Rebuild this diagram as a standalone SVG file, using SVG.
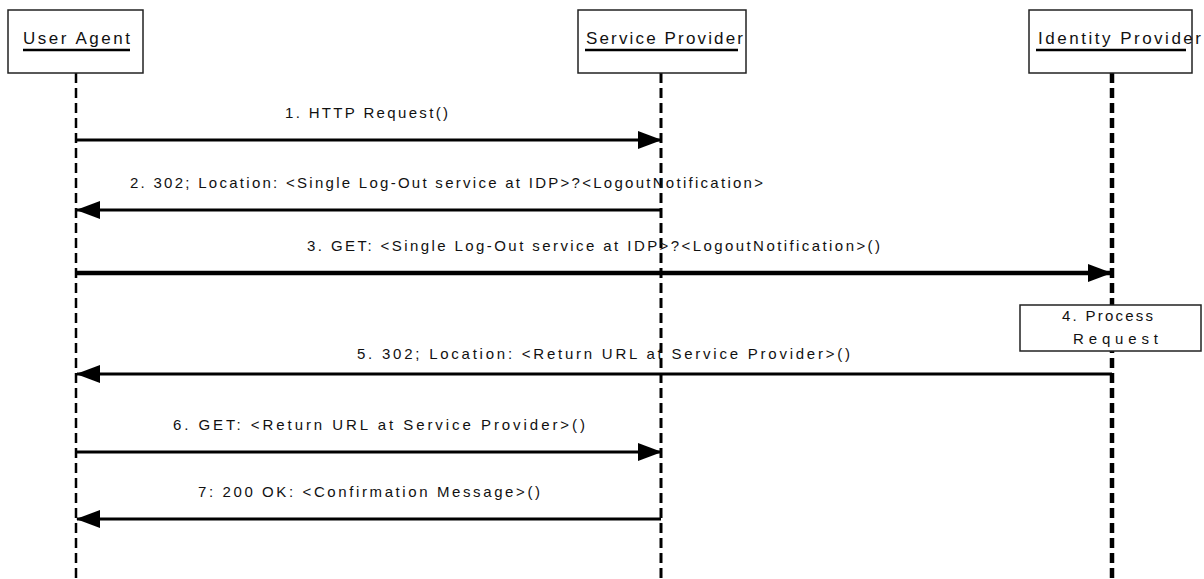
<svg xmlns="http://www.w3.org/2000/svg" width="1204" height="579" viewBox="0 0 1204 579">
<style>
.box{fill:#fff;stroke:#222;stroke-width:1.5}
.hdr{font-family:"Liberation Sans",Arial,sans-serif;font-size:17px;fill:#111}
.ul{stroke:#000;stroke-width:2.5}
.life{stroke:#000;stroke-dasharray:10 5;fill:none}
.msg{stroke:#000;stroke-width:3;fill:none}
.thick{stroke-width:4.5}
.lbl{font-family:"Liberation Sans",Arial,sans-serif;font-size:15px;fill:#111}
</style>
<defs>
<marker id="ah" viewBox="0 0 24 18" refX="23" refY="9" markerWidth="24" markerHeight="18" markerUnits="userSpaceOnUse" orient="auto">
<path d="M0,0 L24,9 L0,18 Z" fill="#000"/>
</marker>
</defs>
<rect width="1204" height="579" fill="#fff"/>
<g id="lifelines">
<line class="life" x1="76" y1="73" x2="76" y2="579" stroke-width="2.5"/>
<line class="life" x1="661" y1="73" x2="661" y2="579" stroke-width="3"/>
<line class="life" x1="1112" y1="73" x2="1112" y2="579" stroke-width="4.5"/>
</g>
<g id="user-agent">
<rect class="box" x="8" y="10" width="135" height="63"/>
<text class="hdr" x="23" y="44" textLength="107" lengthAdjust="spacing">User Agent</text>
<line class="ul" x1="23" y1="50" x2="130" y2="50"/>
</g>
<g id="service-provider">
<rect class="box" x="578" y="10" width="168" height="63"/>
<text class="hdr" x="586" y="44" textLength="157" lengthAdjust="spacing">Service Provider</text>
<line class="ul" x1="585" y1="50" x2="738" y2="50"/>
</g>
<g id="identity-provider">
<rect class="box" x="1029" y="10" width="163" height="63"/>
<text class="hdr" x="1038" y="44" textLength="163" lengthAdjust="spacing">Identity Provider</text>
<line class="ul" x1="1036" y1="50" x2="1186" y2="50"/>
</g>
<g id="process-request">
<rect class="box" x="1020" y="305" width="181" height="46"/>
<text class="lbl" x="1062" y="321" textLength="91" lengthAdjust="spacing">4. Process</text>
<text class="lbl" x="1073" y="344" textLength="85" lengthAdjust="spacing">Request</text>
</g>
<g id="connectors">
<line class="msg" x1="76" y1="140" x2="661" y2="140" marker-end="url(#ah)"/>
<text class="lbl" x="285" y="118" textLength="163" lengthAdjust="spacing">1. HTTP Request()</text>
<line class="msg" x1="661" y1="210" x2="77" y2="210" marker-end="url(#ah)"/>
<text class="lbl" x="130" y="188" textLength="633" lengthAdjust="spacing">2. 302; Location: &lt;Single Log-Out service at IDP&gt;?&lt;LogoutNotification&gt;</text>
<line class="msg thick" x1="76" y1="273" x2="1111" y2="273" marker-end="url(#ah)"/>
<text class="lbl" x="307" y="251" textLength="573" lengthAdjust="spacing">3. GET: &lt;Single Log-Out service at IDP&gt;?&lt;LogoutNotification&gt;()</text>
<line class="msg" x1="1112" y1="374" x2="77" y2="374" marker-end="url(#ah)"/>
<text class="lbl" x="357" y="359" textLength="493" lengthAdjust="spacing">5. 302; Location: &lt;Return URL at Service Provider&gt;()</text>
<line class="msg" x1="76" y1="452" x2="661" y2="452" marker-end="url(#ah)"/>
<text class="lbl" x="173" y="430" textLength="412" lengthAdjust="spacing">6. GET: &lt;Return URL at Service Provider&gt;()</text>
<line class="msg" x1="661" y1="519" x2="77" y2="519" marker-end="url(#ah)"/>
<text class="lbl" x="198" y="497" textLength="342" lengthAdjust="spacing">7: 200 OK: &lt;Confirmation Message&gt;()</text>
</g>
</svg>
